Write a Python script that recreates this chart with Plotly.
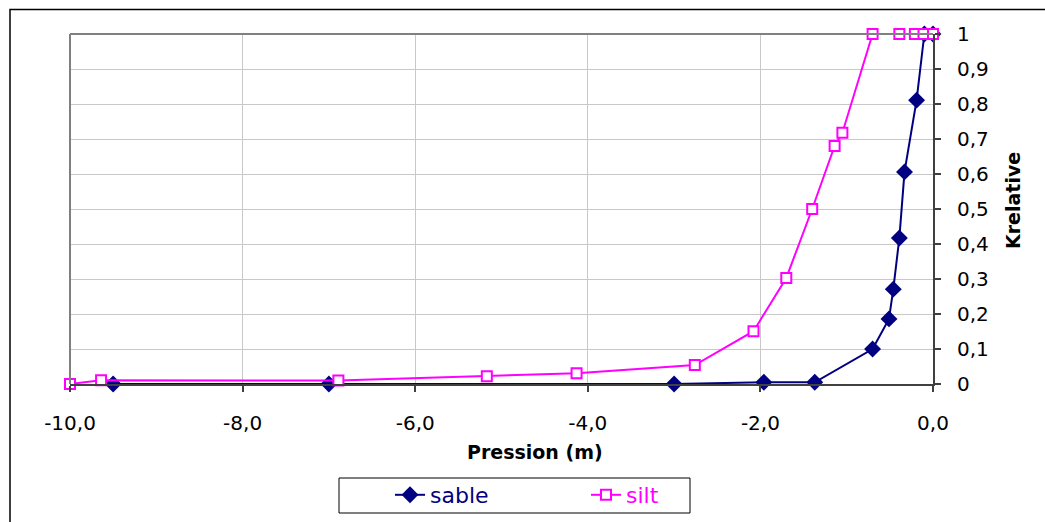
import plotly.graph_objects as go

# Pressure head (m) and relative conductivity for each soil
sable_pression = [-9.5, -7.0, -3.0, -1.96, -1.37, -0.70, -0.51, -0.46, -0.39, -0.33, -0.19, -0.10, 0.0]
sable_krel = [0.0, 0.0, 0.0, 0.005, 0.005, 0.10, 0.186, 0.271, 0.417, 0.606, 0.811, 1.0, 1.0]

silt_pression = [-10.0, -9.64, -6.89, -5.17, -4.13, -2.76, -2.08, -1.70, -1.40, -1.14, -1.05,
                 -0.70, -0.39, -0.21, -0.11, 0.0]
silt_krel = [0.0, 0.011, 0.01, 0.022, 0.031, 0.054, 0.151, 0.303, 0.5, 0.68, 0.718,
             1.0, 1.0, 1.0, 1.0, 1.0]

x_tickvals = [-10, -8, -6, -4, -2, 0]
x_ticktext = ["-10,0", "-8,0", "-6,0", "-4,0", "-2,0", "0,0"]
y_tickvals = [0, 0.1, 0.2, 0.3, 0.4, 0.5, 0.6, 0.7, 0.8, 0.9, 1.0]
y_ticktext = ["0", "0,1", "0,2", "0,3", "0,4", "0,5", "0,6", "0,7", "0,8", "0,9", "1"]

NAVY = "#000080"
MAGENTA = "#FF00FF"
FONT = "DejaVu Sans, Arial, sans-serif"

fig = go.Figure()
fig.add_trace(go.Scatter(
    x=sable_pression, y=sable_krel, mode="lines+markers",
    name=f"<span style='color:{NAVY}'>sable</span>",
    line=dict(color=NAVY, width=2),
    marker=dict(symbol="diamond", size=13, color=NAVY, line=dict(width=0)),
    cliponaxis=False,
))
fig.add_trace(go.Scatter(
    x=silt_pression, y=silt_krel, mode="lines+markers",
    name=f"<span style='color:{MAGENTA}'>silt</span>",
    line=dict(color=MAGENTA, width=2),
    marker=dict(symbol="square", size=10, color="white", line=dict(color=MAGENTA, width=2)),
    cliponaxis=False,
))

W, H = 1045, 522
L, R, T, B = 70, 933, 34, 384
pw, ph = R - L, B - T

def px(x):
    return (x - L) / pw

def py(y):
    return (B - y) / ph

shapes = [
    # outer chart frame
    dict(type="rect", xref="paper", yref="paper", x0=px(10), x1=px(1060), y0=py(9.5), y1=py(540),
         line=dict(color="#000000", width=1.5), fillcolor="rgba(0,0,0,0)", layer="below"),
    # plot-area border (top and left)
    dict(type="line", xref="paper", yref="paper", x0=0, x1=1, y0=1, y1=1,
         line=dict(color="#808080", width=2)),
    dict(type="line", xref="paper", yref="paper", x0=0, x1=0, y0=0, y1=1,
         line=dict(color="#808080", width=2)),
    # legend frame
    dict(type="rect", xref="paper", yref="paper", x0=px(339), x1=px(690), y0=py(478), y1=py(513),
         line=dict(color="#000000", width=1), fillcolor="rgba(0,0,0,0)"),
]

fig.update_layout(
    width=W, height=H,
    margin=dict(l=L, r=W - R, t=T, b=H - B, autoexpand=False),
    paper_bgcolor="white", plot_bgcolor="white",
    font=dict(family=FONT, size=20, color="black"),
    showlegend=True,
    legend=dict(
        orientation="h", xref="container", yref="container",
        x=390 / W, y=1 - 495 / H, xanchor="left", yanchor="middle",
        font=dict(size=22, family=FONT), bgcolor="rgba(0,0,0,0)",
        entrywidth=151, entrywidthmode="pixels", itemwidth=30,
        borderwidth=0,
    ),
    xaxis=dict(
        range=[-10, 0], tickvals=x_tickvals, ticktext=x_ticktext,
        showgrid=True, gridcolor="#C8C8C8", gridwidth=1,
        showline=True, linecolor="#404040", linewidth=2,
        ticks="outside", ticklen=6, tickcolor="#404040", tickwidth=2,
        ticklabelstandoff=14, automargin=False,
        zeroline=False, tickfont=dict(size=20, family=FONT),
    ),
    yaxis=dict(
        range=[0, 1], side="right", tickvals=y_tickvals, ticktext=y_ticktext,
        showgrid=True, gridcolor="#C8C8C8", gridwidth=1,
        showline=True, linecolor="#404040", linewidth=2,
        ticks="outside", ticklen=6, tickcolor="#404040", tickwidth=2,
        ticklabelstandoff=12, automargin=False,
        zeroline=False, tickfont=dict(size=20, family=FONT),
    ),
    shapes=shapes,
    annotations=[
        dict(text="<b>Pression (m)</b>", xref="paper", yref="paper", x=px(535), y=py(452),
             showarrow=False, font=dict(size=19, family=FONT), xanchor="center", yanchor="middle"),
        dict(text="<b>Krelative</b>", xref="paper", yref="paper", x=px(1013), y=py(200),
             showarrow=False, textangle=-90, font=dict(size=19, family=FONT),
             xanchor="center", yanchor="middle"),
    ],
)

fig.write_html("out.html")
